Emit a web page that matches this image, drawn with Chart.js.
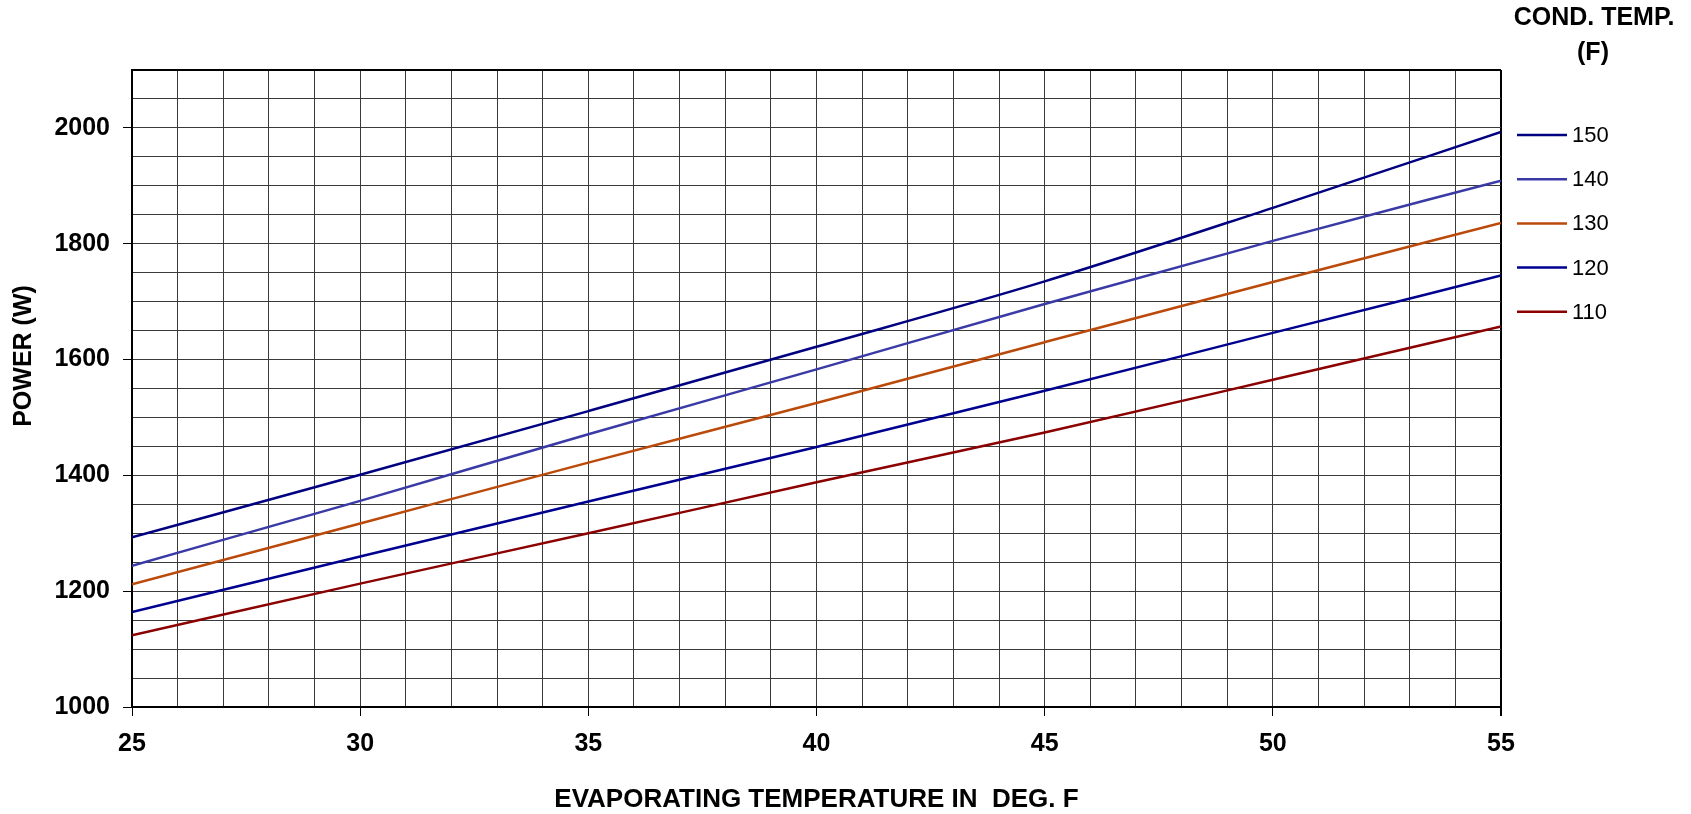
<!DOCTYPE html>
<html lang="en">
<head>
    <meta charset="UTF-8">
    <title>Power vs Evaporating Temperature</title>
    <script src="https://cdn.jsdelivr.net/npm/chart.js"></script>
    <style>
        html, body { margin: 0; padding: 0; background: #fff; }
        #wrap { width: 1691px; height: 814px; position: relative; }
    </style>
</head>
<body>
    <div id="wrap"><canvas id="powerChart"></canvas></div>
    <script>
    // evaporating temperature (deg F)
    const evapTemps = [25, 30, 35, 40, 45, 50, 55];

    // power (W) for each condensing temperature
    const cond150 = [1293, 1401, 1511, 1622, 1735, 1862, 1993];
    const cond140 = [1244, 1356, 1471, 1583, 1696, 1805, 1909];
    const cond130 = [1212, 1317, 1422, 1525, 1630, 1734, 1836];
    const cond120 = [1164, 1260, 1355, 1449, 1546, 1646, 1745];
    const cond110 = [1124, 1213, 1300, 1388, 1474, 1565, 1657];

    const seriesLabels = ['150', '140', '130', '120', '110'];
    const seriesValues = [cond150, cond140, cond130, cond120, cond110];
    const seriesColors = ['#000080', '#3a3aa6', '#bb4a0a', '#000090', '#8b0000'];

    const FONT = '"Liberation Sans", Arial, sans-serif';

    // legend on the right + rotated y title
    const sideText = {
        id: 'sideText',
        afterDraw(chart) {
            const c = chart.ctx;
            c.save();
            c.fillStyle = '#000';
            c.textAlign = 'center';
            c.textBaseline = 'middle';
            c.font = 'bold 25px ' + FONT;
            c.fillText('COND. TEMP.', 1594, 18);
            c.fillText('(F)', 1593, 53);

            chart.data.datasets.forEach((ds, i) => {
                const y = 135 + i * 44.2;
                c.strokeStyle = ds.borderColor;
                c.lineWidth = 2.5;
                c.beginPath();
                c.moveTo(1517, y);
                c.lineTo(1567, y);
                c.stroke();
                c.textAlign = 'left';
                c.font = '22px ' + FONT;
                c.fillText(ds.label, 1572, y + 1);
            });

            c.translate(24, 356);
            c.rotate(-Math.PI / 2);
            c.textAlign = 'center';
            c.font = 'bold 25px ' + FONT;
            c.fillText('POWER (W)', 0, 0);
            c.restore();
        }
    };

    const datasets = seriesLabels.map((lab, i) => ({
        label: lab,
        data: evapTemps.map((t, j) => ({ x: t, y: seriesValues[i][j] })),
        borderColor: seriesColors[i],
        borderWidth: 2.5,
        pointRadius: 0,
        cubicInterpolationMode: 'monotone',
        fill: false
    }));

    new Chart(document.getElementById('powerChart'), {
        type: 'line',
        data: { datasets: datasets },
        options: {
            responsive: true,
            maintainAspectRatio: false,
            animation: false,
            layout: { padding: { top: 70, right: 190, bottom: 0, left: 0 } },
            plugins: {
                legend: { display: false },
                tooltip: { enabled: false }
            },
            scales: {
                x: {
                    type: 'linear',
                    min: 25,
                    max: 55,
                    afterFit: s => { s.height = 107; },
                    ticks: {
                        stepSize: 1,
                        autoSkip: false,
                        maxRotation: 0,
                        padding: 13,
                        color: '#000',
                        font: { family: FONT, size: 25, weight: 'bold' },
                        callback: v => (v % 5 === 0 ? v : '')
                    },
                    grid: {
                        color: c => (c.tick && c.tick.value === 55 ? '#000' : '#3a3a3a'),
                        lineWidth: c => (c.tick && c.tick.value === 55 ? 2 : 1),
                        tickLength: 9,
                        tickColor: c => (c.tick && c.tick.value % 5 === 0 ? '#000' : 'rgba(0,0,0,0)')
                    },
                    border: { color: '#000', width: 2 },
                    title: {
                        display: true,
                        text: 'EVAPORATING TEMPERATURE IN  DEG. F',
                        color: '#000',
                        font: { family: FONT, size: 26, weight: 'bold' },
                        padding: { top: 0, bottom: -1 }
                    }
                },
                y: {
                    min: 1000,
                    max: 2100,
                    afterFit: s => { s.width = 132; },
                    ticks: {
                        stepSize: 50,
                        autoSkip: false,
                        padding: 13,
                        color: '#000',
                        font: { family: FONT, size: 25, weight: 'bold' },
                        callback: v => (v % 200 === 0 ? v : '')
                    },
                    grid: {
                        color: c => (c.tick && c.tick.value === 2100 ? '#000' : '#3a3a3a'),
                        lineWidth: c => (c.tick && c.tick.value === 2100 ? 2 : 1),
                        tickLength: 9,
                        tickColor: c => (c.tick && c.tick.value % 200 === 0 ? '#000' : 'rgba(0,0,0,0)')
                    },
                    border: { color: '#000', width: 2 }
                }
            }
        },
        plugins: [sideText]
    });
    </script>
</body>
</html>
